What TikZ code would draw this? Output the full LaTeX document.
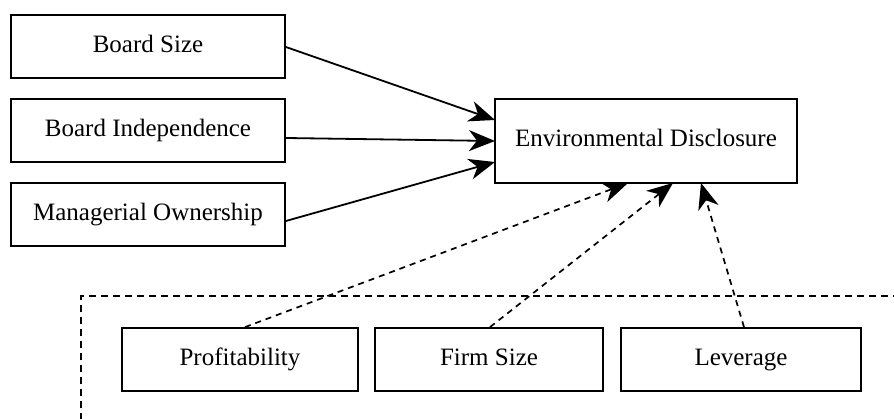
\documentclass[tikz,border=0pt]{standalone}
\usepackage{fontspec}
\setmainfont{Liberation Serif}
\usetikzlibrary{arrows.meta}
\begin{document}
\begin{tikzpicture}[x=1pt,y=-1pt,
  box/.style={draw,line width=1.8pt,inner sep=0pt,text height=17pt,text depth=5pt,font=\fontsize{25}{28}\selectfont},
  solidarrow/.style={line width=1.8pt,-{Stealth[length=26pt,width=21pt,inset=8pt]}},
  dasharrow/.style={line width=1.7pt,dash pattern=on 6pt off 5pt,-{Stealth[length=26pt,width=21pt,inset=8pt]}}]
\useasboundingbox (0,0) rectangle (894,419);
\clip (0,0) rectangle (894,419);
\fill[white] (0,0) rectangle (894,419);
\node[box,minimum width=274pt,minimum height=63pt] (bs) at (148,46.5) {Board Size};
\node[box,minimum width=274pt,minimum height=63pt] (bi) at (148,130.5) {Board Independence};
\node[box,minimum width=274pt,minimum height=63pt] (mo) at (148,214.5) {Managerial Ownership};
\node[box,minimum width=302pt,minimum height=84pt] (ed) at (646,141) {Environmental Disclosure};
\node[box,minimum width=236pt,minimum height=63pt] (pr) at (240,359.5) {Profitability};
\node[box,minimum width=228pt,minimum height=63pt] (fs) at (489,359.5) {Firm Size};
\node[box,minimum width=240pt,minimum height=63pt] (lv) at (741,359.5) {Leverage};
\draw[line width=1.7pt,dash pattern=on 7pt off 5pt] (960,296) -- (81,296) -- (81,460);
\coordinate (t1) at (495,120);
\coordinate (t2) at (495,141);
\coordinate (t3) at (495,162);
\draw[solidarrow] (bs.east |- 0,47) -- (t1);
\draw[solidarrow] (bi.east |- 0,138) -- (t2);
\draw[solidarrow] (mo.east |- 0,221) -- (t3);
\coordinate (d1) at (628,183);
\coordinate (d2) at (673,183);
\coordinate (d3) at (701,183);
\draw[dasharrow] (pr.north -| 245,0) -- (d1);
\draw[dasharrow] (fs.north -| 490,0) -- (d2);
\draw[dasharrow] (lv.north -| 744,0) -- (d3);
\end{tikzpicture}
\end{document}
